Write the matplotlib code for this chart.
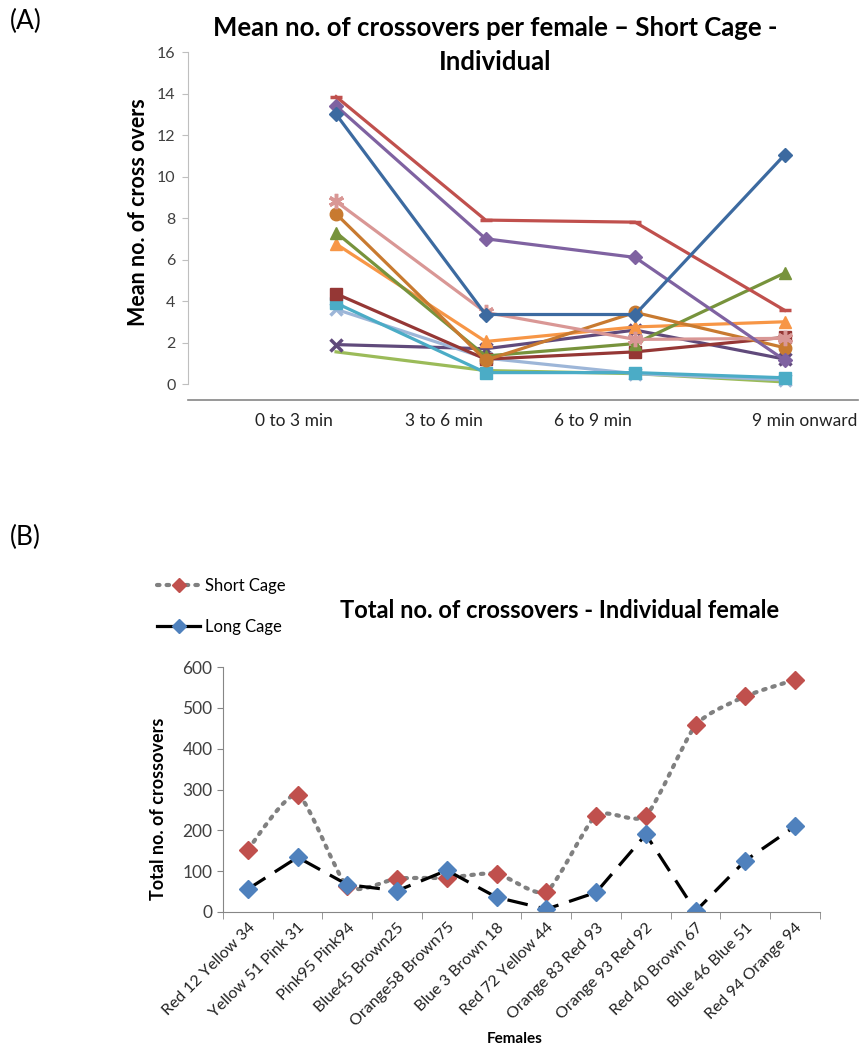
import matplotlib
matplotlib.use('Agg')
import matplotlib.pyplot as plt
from matplotlib.lines import Line2D
from matplotlib.path import Path
from matplotlib.patches import PathPatch

plt.rcParams['font.family'] = ['Lato', 'DejaVu Sans']

# ---- panel A data: mean no. of crossovers per female (short cage)
periods = ['0 to 3 min', '3 to 6 min', '6 to 9 min', '9 min onward']
fem_blue = [13.0, 3.35, 3.35, 11.05]
fem_red = [13.85, 7.9, 7.8, 3.55]
fem_purple = [13.4, 7.0, 6.1, 1.15]
fem_pink = [8.8, 3.45, 2.15, 2.2]
fem_brown = [8.2, 1.15, 3.45, 1.75]
fem_green = [7.3, 1.35, 1.95, 5.35]
fem_orange = [6.75, 2.05, 2.75, 3.0]
fem_darkred = [4.35, 1.2, 1.55, 2.25]
fem_aqua = [3.9, 0.55, 0.55, 0.3]
fem_lightblue = [3.6, 1.25, 0.5, 0.2]
fem_darkpurple = [1.9, 1.7, 2.6, 1.2]
fem_lightgreen = [1.55, 0.65, 0.5, 0.1]

# ---- panel B data: total no. of crossovers per female
females = ['Red 12 Yellow 34', 'Yellow 51 Pink 31', 'Pink95 Pink94', 'Blue45 Brown25',
           'Orange58 Brown75', 'Blue 3 Brown 18', 'Red 72 Yellow 44', 'Orange 83 Red 93',
           'Orange 93 Red 92', 'Red 40 Brown 67', 'Blue 46 Blue 51', 'Red 94 Orange 94']
short_cage = [153, 287, 63, 82, 84, 94, 50, 236, 236, 457, 528, 569]
long_cage = [56, 134, 67, 52, 102, 36, 7, 48, 190, 2, 126, 210]

W, H = 862, 1051
fig = plt.figure(figsize=(W / 100, H / 100), dpi=100)


def box(l, t, r, b):
    return [l / W, 1 - b / H, (r - l) / W, (b - t) / H]


# ================= Panel A =================
ax = fig.add_axes(box(188, 52, 858, 400))
xs = list(range(len(periods)))
styles = [
    (fem_blue, '#3C6AA0', 'D', 7),
    (fem_red, '#C0504D', '_', 8),
    (fem_purple, '#7F62A1', 'D', 7),
    (fem_pink, '#D99795', (6, 2, 0), 11),
    (fem_brown, '#C87A30', 'o', 9),
    (fem_green, '#77933C', '^', 9),
    (fem_orange, '#F79646', '^', 9),
    (fem_darkred, '#953735', 's', 8),
    (fem_aqua, '#4BACC6', 's', 8),
    (fem_lightblue, '#9DB6D8', 'x', 8),
    (fem_darkpurple, '#604A7B', 'x', 8),
    (fem_lightgreen, '#9BBB59', None, 0),
]
for vals, col, mk, ms in reversed(styles):
    ax.plot(xs, vals, color=col, lw=2.3, marker=mk, ms=ms,
            mew=2.5 if mk in ('x', '_', (6, 2, 0)) else 1, mec=col, mfc=col)

ax.set_xlim(-0.99, 3.49)
ax.set_ylim(-0.77, 16)
ax.set_yticks(range(0, 17, 2))
ax.spines['top'].set_visible(False)
ax.spines['right'].set_visible(False)
ax.spines['left'].set_bounds(0, 16)
ax.spines['left'].set_color('#BFBFBF')
ax.spines['bottom'].set_color('#868686')
ax.spines['bottom'].set_linewidth(1.2)
ax.tick_params(axis='y', length=4, color='#BFBFBF', labelcolor='#404040', labelsize=11.5, pad=5)
ax.set_xticks([x - 0.28 for x in xs[:3]] + [3.485])
ax.set_xticklabels(periods)
ax.get_xticklabels()[3].set_ha('right')
ax.tick_params(axis='x', length=0, labelcolor='#222222', labelsize=12.5, pad=9)
ax.set_ylabel('Mean no. of cross overs', fontsize=15.5, fontweight='bold')
ax.yaxis.set_label_coords(-0.058, 0.54)

fig.text(495 / W, 1 - 45 / H, 'Mean no. of crossovers per female \u2013 Short Cage -\nIndividual',
         ha='center', va='center', fontsize=18.5, fontweight='bold', linespacing=1.45)
fig.text(10 / W, 1 - 21 / H, '(A)', ha='left', va='center', fontsize=19)

# ================= Panel B =================
bx = fig.add_axes(box(223, 667, 820, 912))
pos = list(range(len(females)))


def smooth_path(x, y, k=9.0):
    # Excel-style smoothed line drawn as cubic Bezier segments through the points
    verts = [(x[0], y[0])]
    codes = [Path.MOVETO]
    n = len(x)
    for i in range(n - 1):
        x0, y0 = (x[i - 1], y[i - 1]) if i > 0 else (x[i], y[i])
        x3, y3 = (x[i + 2], y[i + 2]) if i + 2 < n else (x[i + 1], y[i + 1])
        c1 = (x[i] + (x[i + 1] - x0) / k, y[i] + (y[i + 1] - y0) / k)
        c2 = (x[i + 1] - (x3 - x[i]) / k, y[i + 1] - (y3 - y[i]) / k)
        verts += [c1, c2, (x[i + 1], y[i + 1])]
        codes += [Path.CURVE4] * 3
    return Path(verts, codes)


bx.add_patch(PathPatch(smooth_path(pos, short_cage), fill=False, edgecolor='#808080',
                       lw=3, linestyle=(0, (0.6, 1.7)), capstyle='round'))
bx.plot(pos, short_cage, ls='none', marker='D', ms=9, color='#C0504D')
bx.plot(pos, long_cage, color='black', lw=2.3, ls=(0, (6.5, 3.5)), marker='D', ms=9,
        mfc='#4F81BD', mec='#4F81BD')

bx.set_xlim(-0.5, 11.5)
bx.set_ylim(0, 600)
bx.set_yticks(range(0, 601, 100))
bx.set_xticks(pos)
bx.set_xticklabels(females, rotation=45, ha='right', rotation_mode='anchor')
bx.set_xticks([p + 0.5 for p in pos[:-1]] + [-0.5, 11.5], minor=True)
bx.tick_params(axis='x', which='major', length=0, labelsize=11.5, labelcolor='#222222', pad=6)
bx.tick_params(axis='x', which='minor', length=5, color='#868686')
bx.tick_params(axis='y', length=4, color='#868686', labelcolor='#404040', labelsize=12.5)
for s in ('top', 'right'):
    bx.spines[s].set_visible(False)
bx.spines['left'].set_color('#868686')
bx.spines['bottom'].set_color('#868686')
bx.set_ylabel('Total no. of crossovers', fontsize=13, fontweight='bold')
bx.yaxis.set_label_coords(-0.093, 0.42)
bx.set_xlabel('Females', fontsize=11, fontweight='bold')
bx.xaxis.set_label_coords(0.489, -0.49)

fig.text(560 / W, 1 - 610 / H, 'Total no. of crossovers - Individual female',
         ha='center', va='center', fontsize=17, fontweight='bold')
fig.text(10 / W, 1 - 537 / H, '(B)', ha='left', va='center', fontsize=19)

handles = [
    Line2D([], [], color='#808080', lw=3, ls=(0, (0.6, 1.7)), marker='D', ms=7,
           mfc='#C0504D', mec='#C0504D', dash_capstyle='round'),
    Line2D([], [], color='black', lw=2.3, marker='D', ms=7, mfc='#4F81BD', mec='#4F81BD'),
]
fig.legend(handles, ['Short Cage', 'Long Cage'], loc='upper left',
           bbox_to_anchor=(142 / W, 1 - 563 / H), frameon=False, fontsize=12,
           handlelength=2.6, handletextpad=0.3, labelspacing=1.5)

fig.savefig('out.png', dpi=100)
